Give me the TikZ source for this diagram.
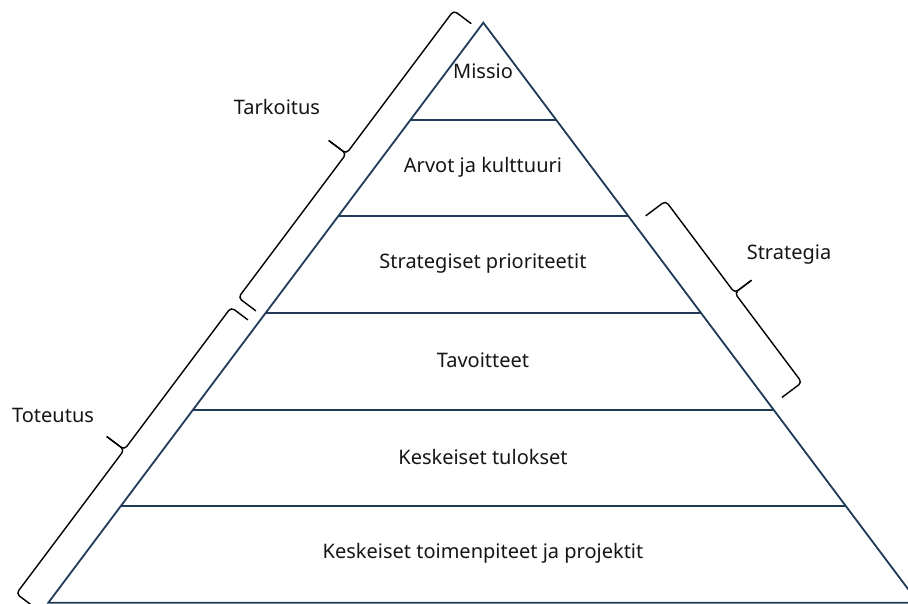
\documentclass[tikz,border=0pt]{standalone}
\usepackage{fontspec}
\setmainfont{Noto Sans}
\usetikzlibrary{calc}
\definecolor{pyr}{HTML}{1F3B57}
\definecolor{txt}{HTML}{151515}
\begin{document}
\begin{tikzpicture}[x=1pt,y=-1pt,
  pyrline/.style={draw=pyr,line width=1.8pt},
  bracel/.style={draw=black,line width=1.4pt,rounded corners=4pt},
  lbl/.style={font=\fontsize{20}{23}\selectfont,text=txt,inner sep=0pt}]
\useasboundingbox (0,0) rectangle (908,604);
\clip (0,0) rectangle (908,604);
\coordinate (A) at (483.3,22.7);
\coordinate (BL) at (48.3,602.7);
\coordinate (BR) at (918.3,602.7);
\draw[pyrline] (BL) -- (A) -- (BR) -- cycle;
\foreach \yy in {120,216,313,410,506}
  \draw[pyrline] ($(A)!{(\yy-22.7)/580}!(BL)$) -- ($(A)!{(\yy-22.7)/580}!(BR)$);
% labels
\node[lbl] (missio) at (483,71) {Missio};
\node[lbl] (arvot) at (483,167) {Arvot ja kulttuuri};
\node[lbl] (strat) at (483,264) {Strategiset prioriteetit};
\node[lbl] (tav) at (483,360) {Tavoitteet};
\node[lbl] (tul) at (483,457) {Keskeiset tulokset};
\node[lbl] (toim) at (483,553) {Keskeiset toimenpiteet ja projektit};
\node[lbl] (tarkoitus) at (277,107) {Tarkoitus};
\node[lbl] (toteutus) at (53,415) {Toteutus};
\node[lbl] (strategia) at (789,255) {Strategia};
% left braces
\begin{scope}[shift={(483.3pt,-22.7pt)},x={(-0.6pt,-0.8pt)},y={(-0.8pt,0.6pt)}]
  \draw[bracel] (8,9) -- (8,31) -- (187,31) -- (187,53);
  \draw[bracel] (187,53) -- (187,31) -- (367,31) -- (367,9);
  \draw[bracel] (379,10) -- (379,31) -- (557,31) -- (557,53);
  \draw[bracel] (557,53) -- (557,31) -- (737,31) -- (737,10);
\end{scope}
% right brace
\begin{scope}[shift={(483.3pt,-22.7pt)},x={(0.6pt,-0.8pt)},y={(0.8pt,0.6pt)}]
  \draw[bracel] (252,14) -- (252,39) -- (367,39) -- (367,60);
  \draw[bracel] (367,60) -- (367,39) -- (479,39) -- (479,14);
\end{scope}
\end{tikzpicture}
\end{document}
